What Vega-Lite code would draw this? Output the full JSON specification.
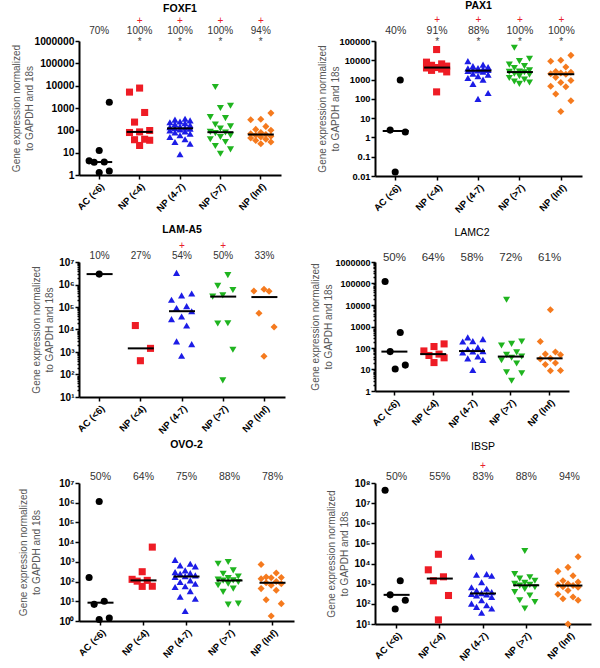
{
  "$schema": "https://vega.github.io/schema/vega-lite/v6.json",
  "padding": {"left": 11, "top": 0, "right": 3, "bottom": 3},
  "config": {
    "view": {"stroke": null},
    "font": "Liberation Sans",
    "axis": {"domainColor": "black", "domainWidth": 2, "tickColor": "black", "tickWidth": 1.5, "tickSize": 4, "labelColor": "black", "labelFontWeight": "bold", "labelFontSize": 10, "grid": false, "titleFontWeight": "normal", "titleColor": "#555", "titleFontSize": 10, "titleLineHeight": 13},
    "axisY": {"titlePadding": 2, "labelPadding": 1},
    "axisX": {"labelAngle": -45, "bandPosition": 0.5, "labelPadding": 2, "labelFontSize": 9.5},
    "title": {"fontSize": 10.5, "color": "black", "anchor": "middle", "frame": "group"}
  },
  "datasets": {
    "pts": [
      {"gene":"FOXF1","grp":"AC (<6)","v":1820},{"gene":"FOXF1","grp":"AC (<6)","v":12.4},{"gene":"FOXF1","grp":"AC (<6)","v":3.7},{"gene":"FOXF1","grp":"AC (<6)","v":3.8},{"gene":"FOXF1","grp":"AC (<6)","v":4.3},{"gene":"FOXF1","grp":"AC (<6)","v":1.5},{"gene":"FOXF1","grp":"AC (<6)","v":1.3},
      {"gene":"FOXF1","grp":"NP (<4)","v":7800},{"gene":"FOXF1","grp":"NP (<4)","v":5150},{"gene":"FOXF1","grp":"NP (<4)","v":630},{"gene":"FOXF1","grp":"NP (<4)","v":234},{"gene":"FOXF1","grp":"NP (<4)","v":98},{"gene":"FOXF1","grp":"NP (<4)","v":85},{"gene":"FOXF1","grp":"NP (<4)","v":80},{"gene":"FOXF1","grp":"NP (<4)","v":40},{"gene":"FOXF1","grp":"NP (<4)","v":38},{"gene":"FOXF1","grp":"NP (<4)","v":36},{"gene":"FOXF1","grp":"NP (<4)","v":21},
      {"gene":"FOXF1","grp":"NP (4-7)","v":330},{"gene":"FOXF1","grp":"NP (4-7)","v":300},{"gene":"FOXF1","grp":"NP (4-7)","v":280},{"gene":"FOXF1","grp":"NP (4-7)","v":250},{"gene":"FOXF1","grp":"NP (4-7)","v":230},{"gene":"FOXF1","grp":"NP (4-7)","v":210},{"gene":"FOXF1","grp":"NP (4-7)","v":190},{"gene":"FOXF1","grp":"NP (4-7)","v":170},{"gene":"FOXF1","grp":"NP (4-7)","v":150},{"gene":"FOXF1","grp":"NP (4-7)","v":140},{"gene":"FOXF1","grp":"NP (4-7)","v":130},{"gene":"FOXF1","grp":"NP (4-7)","v":125},{"gene":"FOXF1","grp":"NP (4-7)","v":120},{"gene":"FOXF1","grp":"NP (4-7)","v":110},{"gene":"FOXF1","grp":"NP (4-7)","v":100},{"gene":"FOXF1","grp":"NP (4-7)","v":90},{"gene":"FOXF1","grp":"NP (4-7)","v":80},{"gene":"FOXF1","grp":"NP (4-7)","v":70},{"gene":"FOXF1","grp":"NP (4-7)","v":60},{"gene":"FOXF1","grp":"NP (4-7)","v":50},{"gene":"FOXF1","grp":"NP (4-7)","v":40},{"gene":"FOXF1","grp":"NP (4-7)","v":30},{"gene":"FOXF1","grp":"NP (4-7)","v":25},{"gene":"FOXF1","grp":"NP (4-7)","v":8.5},
      {"gene":"FOXF1","grp":"NP (>7)","v":8700},{"gene":"FOXF1","grp":"NP (>7)","v":1260},{"gene":"FOXF1","grp":"NP (>7)","v":1000},{"gene":"FOXF1","grp":"NP (>7)","v":390},{"gene":"FOXF1","grp":"NP (>7)","v":350},{"gene":"FOXF1","grp":"NP (>7)","v":180},{"gene":"FOXF1","grp":"NP (>7)","v":150},{"gene":"FOXF1","grp":"NP (>7)","v":120},{"gene":"FOXF1","grp":"NP (>7)","v":85},{"gene":"FOXF1","grp":"NP (>7)","v":80},{"gene":"FOXF1","grp":"NP (>7)","v":75},{"gene":"FOXF1","grp":"NP (>7)","v":60},{"gene":"FOXF1","grp":"NP (>7)","v":50},{"gene":"FOXF1","grp":"NP (>7)","v":40},{"gene":"FOXF1","grp":"NP (>7)","v":30},{"gene":"FOXF1","grp":"NP (>7)","v":20},{"gene":"FOXF1","grp":"NP (>7)","v":14},{"gene":"FOXF1","grp":"NP (>7)","v":9},
      {"gene":"FOXF1","grp":"NP (Inf)","v":590},{"gene":"FOXF1","grp":"NP (Inf)","v":316},{"gene":"FOXF1","grp":"NP (Inf)","v":300},{"gene":"FOXF1","grp":"NP (Inf)","v":150},{"gene":"FOXF1","grp":"NP (Inf)","v":110},{"gene":"FOXF1","grp":"NP (Inf)","v":100},{"gene":"FOXF1","grp":"NP (Inf)","v":80},{"gene":"FOXF1","grp":"NP (Inf)","v":70},{"gene":"FOXF1","grp":"NP (Inf)","v":65},{"gene":"FOXF1","grp":"NP (Inf)","v":60},{"gene":"FOXF1","grp":"NP (Inf)","v":55},{"gene":"FOXF1","grp":"NP (Inf)","v":50},{"gene":"FOXF1","grp":"NP (Inf)","v":45},{"gene":"FOXF1","grp":"NP (Inf)","v":40},{"gene":"FOXF1","grp":"NP (Inf)","v":35},{"gene":"FOXF1","grp":"NP (Inf)","v":30},{"gene":"FOXF1","grp":"NP (Inf)","v":25},

      {"gene":"PAX1","grp":"AC (<6)","v":950},{"gene":"PAX1","grp":"AC (<6)","v":2.4},{"gene":"PAX1","grp":"AC (<6)","v":1.9},{"gene":"PAX1","grp":"AC (<6)","v":0.016},
      {"gene":"PAX1","grp":"NP (<4)","v":36000},{"gene":"PAX1","grp":"NP (<4)","v":8000},{"gene":"PAX1","grp":"NP (<4)","v":6500},{"gene":"PAX1","grp":"NP (<4)","v":5500},{"gene":"PAX1","grp":"NP (<4)","v":5000},{"gene":"PAX1","grp":"NP (<4)","v":4200},{"gene":"PAX1","grp":"NP (<4)","v":4000},{"gene":"PAX1","grp":"NP (<4)","v":3500},{"gene":"PAX1","grp":"NP (<4)","v":3000},{"gene":"PAX1","grp":"NP (<4)","v":2500},{"gene":"PAX1","grp":"NP (<4)","v":230},
      {"gene":"PAX1","grp":"NP (4-7)","v":9000},{"gene":"PAX1","grp":"NP (4-7)","v":6000},{"gene":"PAX1","grp":"NP (4-7)","v":5000},{"gene":"PAX1","grp":"NP (4-7)","v":4500},{"gene":"PAX1","grp":"NP (4-7)","v":4000},{"gene":"PAX1","grp":"NP (4-7)","v":3800},{"gene":"PAX1","grp":"NP (4-7)","v":3500},{"gene":"PAX1","grp":"NP (4-7)","v":3300},{"gene":"PAX1","grp":"NP (4-7)","v":3200},{"gene":"PAX1","grp":"NP (4-7)","v":3000},{"gene":"PAX1","grp":"NP (4-7)","v":2800},{"gene":"PAX1","grp":"NP (4-7)","v":2600},{"gene":"PAX1","grp":"NP (4-7)","v":2000},{"gene":"PAX1","grp":"NP (4-7)","v":1800},{"gene":"PAX1","grp":"NP (4-7)","v":1500},{"gene":"PAX1","grp":"NP (4-7)","v":1200},{"gene":"PAX1","grp":"NP (4-7)","v":1000},{"gene":"PAX1","grp":"NP (4-7)","v":600},{"gene":"PAX1","grp":"NP (4-7)","v":200},{"gene":"PAX1","grp":"NP (4-7)","v":100},
      {"gene":"PAX1","grp":"NP (>7)","v":45000},{"gene":"PAX1","grp":"NP (>7)","v":12000},{"gene":"PAX1","grp":"NP (>7)","v":9000},{"gene":"PAX1","grp":"NP (>7)","v":6000},{"gene":"PAX1","grp":"NP (>7)","v":5000},{"gene":"PAX1","grp":"NP (>7)","v":4000},{"gene":"PAX1","grp":"NP (>7)","v":3000},{"gene":"PAX1","grp":"NP (>7)","v":2600},{"gene":"PAX1","grp":"NP (>7)","v":2500},{"gene":"PAX1","grp":"NP (>7)","v":2400},{"gene":"PAX1","grp":"NP (>7)","v":2000},{"gene":"PAX1","grp":"NP (>7)","v":1800},{"gene":"PAX1","grp":"NP (>7)","v":1500},{"gene":"PAX1","grp":"NP (>7)","v":1200},{"gene":"PAX1","grp":"NP (>7)","v":1000},{"gene":"PAX1","grp":"NP (>7)","v":800},{"gene":"PAX1","grp":"NP (>7)","v":700},{"gene":"PAX1","grp":"NP (>7)","v":600},
      {"gene":"PAX1","grp":"NP (Inf)","v":18000},{"gene":"PAX1","grp":"NP (Inf)","v":10000},{"gene":"PAX1","grp":"NP (Inf)","v":9000},{"gene":"PAX1","grp":"NP (Inf)","v":4500},{"gene":"PAX1","grp":"NP (Inf)","v":2600},{"gene":"PAX1","grp":"NP (Inf)","v":2400},{"gene":"PAX1","grp":"NP (Inf)","v":2200},{"gene":"PAX1","grp":"NP (Inf)","v":2000},{"gene":"PAX1","grp":"NP (Inf)","v":1900},{"gene":"PAX1","grp":"NP (Inf)","v":1300},{"gene":"PAX1","grp":"NP (Inf)","v":900},{"gene":"PAX1","grp":"NP (Inf)","v":700},{"gene":"PAX1","grp":"NP (Inf)","v":450},{"gene":"PAX1","grp":"NP (Inf)","v":420},{"gene":"PAX1","grp":"NP (Inf)","v":180},{"gene":"PAX1","grp":"NP (Inf)","v":80},{"gene":"PAX1","grp":"NP (Inf)","v":22},

      {"gene":"LAM-A5","grp":"AC (<6)","v":2900000},
      {"gene":"LAM-A5","grp":"NP (<4)","v":15000},{"gene":"LAM-A5","grp":"NP (<4)","v":1450},{"gene":"LAM-A5","grp":"NP (<4)","v":410},
      {"gene":"LAM-A5","grp":"NP (4-7)","v":3300000},{"gene":"LAM-A5","grp":"NP (4-7)","v":400000},{"gene":"LAM-A5","grp":"NP (4-7)","v":330000},{"gene":"LAM-A5","grp":"NP (4-7)","v":210000},{"gene":"LAM-A5","grp":"NP (4-7)","v":110000},{"gene":"LAM-A5","grp":"NP (4-7)","v":90000},{"gene":"LAM-A5","grp":"NP (4-7)","v":65000},{"gene":"LAM-A5","grp":"NP (4-7)","v":38000},{"gene":"LAM-A5","grp":"NP (4-7)","v":29000},{"gene":"LAM-A5","grp":"NP (4-7)","v":15000},{"gene":"LAM-A5","grp":"NP (4-7)","v":2950},{"gene":"LAM-A5","grp":"NP (4-7)","v":2250},{"gene":"LAM-A5","grp":"NP (4-7)","v":680},
      {"gene":"LAM-A5","grp":"NP (>7)","v":2600000},{"gene":"LAM-A5","grp":"NP (>7)","v":870000},{"gene":"LAM-A5","grp":"NP (>7)","v":570000},{"gene":"LAM-A5","grp":"NP (>7)","v":330000},{"gene":"LAM-A5","grp":"NP (>7)","v":290000},{"gene":"LAM-A5","grp":"NP (>7)","v":19000},{"gene":"LAM-A5","grp":"NP (>7)","v":18500},{"gene":"LAM-A5","grp":"NP (>7)","v":1260},{"gene":"LAM-A5","grp":"NP (>7)","v":55},
      {"gene":"LAM-A5","grp":"NP (Inf)","v":620000},{"gene":"LAM-A5","grp":"NP (Inf)","v":510000},{"gene":"LAM-A5","grp":"NP (Inf)","v":500000},{"gene":"LAM-A5","grp":"NP (Inf)","v":53000},{"gene":"LAM-A5","grp":"NP (Inf)","v":13000},{"gene":"LAM-A5","grp":"NP (Inf)","v":650},

      {"gene":"LAMC2","grp":"AC (<6)","v":125000},{"gene":"LAMC2","grp":"AC (<6)","v":530},{"gene":"LAMC2","grp":"AC (<6)","v":68},{"gene":"LAMC2","grp":"AC (<6)","v":16},{"gene":"LAMC2","grp":"AC (<6)","v":10.5},
      {"gene":"LAMC2","grp":"NP (<4)","v":155},{"gene":"LAMC2","grp":"NP (<4)","v":117},{"gene":"LAMC2","grp":"NP (<4)","v":73},{"gene":"LAMC2","grp":"NP (<4)","v":52},{"gene":"LAMC2","grp":"NP (<4)","v":45},{"gene":"LAMC2","grp":"NP (<4)","v":35},{"gene":"LAMC2","grp":"NP (<4)","v":21},
      {"gene":"LAMC2","grp":"NP (4-7)","v":310},{"gene":"LAMC2","grp":"NP (4-7)","v":260},{"gene":"LAMC2","grp":"NP (4-7)","v":210},{"gene":"LAMC2","grp":"NP (4-7)","v":200},{"gene":"LAMC2","grp":"NP (4-7)","v":107},{"gene":"LAMC2","grp":"NP (4-7)","v":90},{"gene":"LAMC2","grp":"NP (4-7)","v":72},{"gene":"LAMC2","grp":"NP (4-7)","v":70},{"gene":"LAMC2","grp":"NP (4-7)","v":63},{"gene":"LAMC2","grp":"NP (4-7)","v":40},{"gene":"LAMC2","grp":"NP (4-7)","v":33},{"gene":"LAMC2","grp":"NP (4-7)","v":28},{"gene":"LAMC2","grp":"NP (4-7)","v":9.5},
      {"gene":"LAMC2","grp":"NP (>7)","v":17500},{"gene":"LAMC2","grp":"NP (>7)","v":200},{"gene":"LAMC2","grp":"NP (>7)","v":155},{"gene":"LAMC2","grp":"NP (>7)","v":130},{"gene":"LAMC2","grp":"NP (>7)","v":63},{"gene":"LAMC2","grp":"NP (>7)","v":48},{"gene":"LAMC2","grp":"NP (>7)","v":40},{"gene":"LAMC2","grp":"NP (>7)","v":35},{"gene":"LAMC2","grp":"NP (>7)","v":27},{"gene":"LAMC2","grp":"NP (>7)","v":19},{"gene":"LAMC2","grp":"NP (>7)","v":7.4},{"gene":"LAMC2","grp":"NP (>7)","v":6.7},{"gene":"LAMC2","grp":"NP (>7)","v":3},
      {"gene":"LAMC2","grp":"NP (Inf)","v":6000},{"gene":"LAMC2","grp":"NP (Inf)","v":200},{"gene":"LAMC2","grp":"NP (Inf)","v":65},{"gene":"LAMC2","grp":"NP (Inf)","v":52},{"gene":"LAMC2","grp":"NP (Inf)","v":48},{"gene":"LAMC2","grp":"NP (Inf)","v":33},{"gene":"LAMC2","grp":"NP (Inf)","v":31},{"gene":"LAMC2","grp":"NP (Inf)","v":20},{"gene":"LAMC2","grp":"NP (Inf)","v":17},{"gene":"LAMC2","grp":"NP (Inf)","v":9},{"gene":"LAMC2","grp":"NP (Inf)","v":8.8},

      {"gene":"OVO-2","grp":"AC (<6)","v":1150000},{"gene":"OVO-2","grp":"AC (<6)","v":162},{"gene":"OVO-2","grp":"AC (<6)","v":10},{"gene":"OVO-2","grp":"AC (<6)","v":7},{"gene":"OVO-2","grp":"AC (<6)","v":1.4},{"gene":"OVO-2","grp":"AC (<6)","v":1.2},
      {"gene":"OVO-2","grp":"NP (<4)","v":5600},{"gene":"OVO-2","grp":"NP (<4)","v":316},{"gene":"OVO-2","grp":"NP (<4)","v":130},{"gene":"OVO-2","grp":"NP (<4)","v":115},{"gene":"OVO-2","grp":"NP (<4)","v":105},{"gene":"OVO-2","grp":"NP (<4)","v":58},{"gene":"OVO-2","grp":"NP (<4)","v":57},
      {"gene":"OVO-2","grp":"NP (4-7)","v":1260},{"gene":"OVO-2","grp":"NP (4-7)","v":800},{"gene":"OVO-2","grp":"NP (4-7)","v":660},{"gene":"OVO-2","grp":"NP (4-7)","v":590},{"gene":"OVO-2","grp":"NP (4-7)","v":370},{"gene":"OVO-2","grp":"NP (4-7)","v":300},{"gene":"OVO-2","grp":"NP (4-7)","v":270},{"gene":"OVO-2","grp":"NP (4-7)","v":250},{"gene":"OVO-2","grp":"NP (4-7)","v":205},{"gene":"OVO-2","grp":"NP (4-7)","v":190},{"gene":"OVO-2","grp":"NP (4-7)","v":170},{"gene":"OVO-2","grp":"NP (4-7)","v":115},{"gene":"OVO-2","grp":"NP (4-7)","v":95},{"gene":"OVO-2","grp":"NP (4-7)","v":78},{"gene":"OVO-2","grp":"NP (4-7)","v":58},{"gene":"OVO-2","grp":"NP (4-7)","v":53},{"gene":"OVO-2","grp":"NP (4-7)","v":33},{"gene":"OVO-2","grp":"NP (4-7)","v":17},{"gene":"OVO-2","grp":"NP (4-7)","v":13.5},{"gene":"OVO-2","grp":"NP (4-7)","v":3.2},
      {"gene":"OVO-2","grp":"NP (>7)","v":980},{"gene":"OVO-2","grp":"NP (>7)","v":800},{"gene":"OVO-2","grp":"NP (>7)","v":370},{"gene":"OVO-2","grp":"NP (>7)","v":250},{"gene":"OVO-2","grp":"NP (>7)","v":180},{"gene":"OVO-2","grp":"NP (>7)","v":150},{"gene":"OVO-2","grp":"NP (>7)","v":125},{"gene":"OVO-2","grp":"NP (>7)","v":115},{"gene":"OVO-2","grp":"NP (>7)","v":112},{"gene":"OVO-2","grp":"NP (>7)","v":95},{"gene":"OVO-2","grp":"NP (>7)","v":78},{"gene":"OVO-2","grp":"NP (>7)","v":65},{"gene":"OVO-2","grp":"NP (>7)","v":44},{"gene":"OVO-2","grp":"NP (>7)","v":30},{"gene":"OVO-2","grp":"NP (>7)","v":7.6},{"gene":"OVO-2","grp":"NP (>7)","v":6.8},
      {"gene":"OVO-2","grp":"NP (Inf)","v":740},{"gene":"OVO-2","grp":"NP (Inf)","v":270},{"gene":"OVO-2","grp":"NP (Inf)","v":170},{"gene":"OVO-2","grp":"NP (Inf)","v":160},{"gene":"OVO-2","grp":"NP (Inf)","v":155},{"gene":"OVO-2","grp":"NP (Inf)","v":140},{"gene":"OVO-2","grp":"NP (Inf)","v":100},{"gene":"OVO-2","grp":"NP (Inf)","v":87},{"gene":"OVO-2","grp":"NP (Inf)","v":78},{"gene":"OVO-2","grp":"NP (Inf)","v":65},{"gene":"OVO-2","grp":"NP (Inf)","v":44},{"gene":"OVO-2","grp":"NP (Inf)","v":36},{"gene":"OVO-2","grp":"NP (Inf)","v":12},{"gene":"OVO-2","grp":"NP (Inf)","v":7.6},{"gene":"OVO-2","grp":"NP (Inf)","v":1.8},

      {"gene":"IBSP","grp":"AC (<6)","v":44000000},{"gene":"IBSP","grp":"AC (<6)","v":1400},{"gene":"IBSP","grp":"AC (<6)","v":280},{"gene":"IBSP","grp":"AC (<6)","v":150},{"gene":"IBSP","grp":"AC (<6)","v":56},
      {"gene":"IBSP","grp":"NP (<4)","v":29000},{"gene":"IBSP","grp":"NP (<4)","v":4900},{"gene":"IBSP","grp":"NP (<4)","v":2200},{"gene":"IBSP","grp":"NP (<4)","v":1400},{"gene":"IBSP","grp":"NP (<4)","v":260},{"gene":"IBSP","grp":"NP (<4)","v":16},
      {"gene":"IBSP","grp":"NP (4-7)","v":22000},{"gene":"IBSP","grp":"NP (4-7)","v":3000},{"gene":"IBSP","grp":"NP (4-7)","v":2800},{"gene":"IBSP","grp":"NP (4-7)","v":2500},{"gene":"IBSP","grp":"NP (4-7)","v":1180},{"gene":"IBSP","grp":"NP (4-7)","v":670},{"gene":"IBSP","grp":"NP (4-7)","v":560},{"gene":"IBSP","grp":"NP (4-7)","v":460},{"gene":"IBSP","grp":"NP (4-7)","v":380},{"gene":"IBSP","grp":"NP (4-7)","v":340},{"gene":"IBSP","grp":"NP (4-7)","v":315},{"gene":"IBSP","grp":"NP (4-7)","v":290},{"gene":"IBSP","grp":"NP (4-7)","v":260},{"gene":"IBSP","grp":"NP (4-7)","v":220},{"gene":"IBSP","grp":"NP (4-7)","v":150},{"gene":"IBSP","grp":"NP (4-7)","v":103},{"gene":"IBSP","grp":"NP (4-7)","v":85},{"gene":"IBSP","grp":"NP (4-7)","v":71},{"gene":"IBSP","grp":"NP (4-7)","v":59},{"gene":"IBSP","grp":"NP (4-7)","v":36},
      {"gene":"IBSP","grp":"NP (>7)","v":42000},{"gene":"IBSP","grp":"NP (>7)","v":3000},{"gene":"IBSP","grp":"NP (>7)","v":2100},{"gene":"IBSP","grp":"NP (>7)","v":1800},{"gene":"IBSP","grp":"NP (>7)","v":1400},{"gene":"IBSP","grp":"NP (>7)","v":1100},{"gene":"IBSP","grp":"NP (>7)","v":980},{"gene":"IBSP","grp":"NP (>7)","v":870},{"gene":"IBSP","grp":"NP (>7)","v":800},{"gene":"IBSP","grp":"NP (>7)","v":670},{"gene":"IBSP","grp":"NP (>7)","v":550},{"gene":"IBSP","grp":"NP (>7)","v":380},{"gene":"IBSP","grp":"NP (>7)","v":260},{"gene":"IBSP","grp":"NP (>7)","v":150},{"gene":"IBSP","grp":"NP (>7)","v":123},{"gene":"IBSP","grp":"NP (>7)","v":59},
      {"gene":"IBSP","grp":"NP (Inf)","v":22000},{"gene":"IBSP","grp":"NP (Inf)","v":6500},{"gene":"IBSP","grp":"NP (Inf)","v":4100},{"gene":"IBSP","grp":"NP (Inf)","v":2500},{"gene":"IBSP","grp":"NP (Inf)","v":1400},{"gene":"IBSP","grp":"NP (Inf)","v":1200},{"gene":"IBSP","grp":"NP (Inf)","v":980},{"gene":"IBSP","grp":"NP (Inf)","v":900},{"gene":"IBSP","grp":"NP (Inf)","v":810},{"gene":"IBSP","grp":"NP (Inf)","v":700},{"gene":"IBSP","grp":"NP (Inf)","v":670},{"gene":"IBSP","grp":"NP (Inf)","v":460},{"gene":"IBSP","grp":"NP (Inf)","v":300},{"gene":"IBSP","grp":"NP (Inf)","v":220},{"gene":"IBSP","grp":"NP (Inf)","v":180},{"gene":"IBSP","grp":"NP (Inf)","v":150},{"gene":"IBSP","grp":"NP (Inf)","v":10}
    ],
    "lab": [
      {"gene":"FOXF1","grp":"AC (<6)","pct":"70%","plus":"","star":""},{"gene":"FOXF1","grp":"NP (<4)","pct":"100%","plus":"+","star":"*"},{"gene":"FOXF1","grp":"NP (4-7)","pct":"100%","plus":"+","star":"*"},{"gene":"FOXF1","grp":"NP (>7)","pct":"100%","plus":"+","star":"*"},{"gene":"FOXF1","grp":"NP (Inf)","pct":"94%","plus":"+","star":"*"},
      {"gene":"PAX1","grp":"AC (<6)","pct":"40%","plus":"","star":""},{"gene":"PAX1","grp":"NP (<4)","pct":"91%","plus":"+","star":"*"},{"gene":"PAX1","grp":"NP (4-7)","pct":"88%","plus":"+","star":"*"},{"gene":"PAX1","grp":"NP (>7)","pct":"100%","plus":"+","star":"*"},{"gene":"PAX1","grp":"NP (Inf)","pct":"100%","plus":"+","star":"*"},
      {"gene":"LAM-A5","grp":"AC (<6)","pct":"10%","plus":"","star":""},{"gene":"LAM-A5","grp":"NP (<4)","pct":"27%","plus":"","star":""},{"gene":"LAM-A5","grp":"NP (4-7)","pct":"54%","plus":"+","star":""},{"gene":"LAM-A5","grp":"NP (>7)","pct":"50%","plus":"+","star":""},{"gene":"LAM-A5","grp":"NP (Inf)","pct":"33%","plus":"","star":""},
      {"gene":"LAMC2","grp":"AC (<6)","pct":"50%","plus":"","star":""},{"gene":"LAMC2","grp":"NP (<4)","pct":"64%","plus":"","star":""},{"gene":"LAMC2","grp":"NP (4-7)","pct":"58%","plus":"","star":""},{"gene":"LAMC2","grp":"NP (>7)","pct":"72%","plus":"","star":""},{"gene":"LAMC2","grp":"NP (Inf)","pct":"61%","plus":"","star":""},
      {"gene":"OVO-2","grp":"AC (<6)","pct":"50%","plus":"","star":""},{"gene":"OVO-2","grp":"NP (<4)","pct":"64%","plus":"","star":""},{"gene":"OVO-2","grp":"NP (4-7)","pct":"75%","plus":"","star":""},{"gene":"OVO-2","grp":"NP (>7)","pct":"88%","plus":"","star":""},{"gene":"OVO-2","grp":"NP (Inf)","pct":"78%","plus":"","star":""},
      {"gene":"IBSP","grp":"AC (<6)","pct":"50%","plus":"","star":""},{"gene":"IBSP","grp":"NP (<4)","pct":"55%","plus":"","star":""},{"gene":"IBSP","grp":"NP (4-7)","pct":"83%","plus":"+","star":""},{"gene":"IBSP","grp":"NP (>7)","pct":"88%","plus":"","star":""},{"gene":"IBSP","grp":"NP (Inf)","pct":"94%","plus":"","star":""}
    ]
  },
  "columns": 2,
  "align": "each",
  "bounds": "flush",
  "spacing": {"row": 86, "column": 81},
  "concat": [
      {"width": 202, "height": 134,
       "title": {"text": "FOXF1", "fontWeight": "bold", "offset": 2},
       "layer": [
        {"data": {"name": "pts"}, "transform": [{"filter": "datum.gene == 'FOXF1'"}, {"window": [{"op": "row_number", "as": "i"}], "groupby": ["grp"], "sort": [{"field": "v"}]}, {"calculate": "[0, 0.25, -0.125, 0.125, -0.25][(datum.i - 1) % 5]", "as": "jit"}],
         "mark": {"type": "point", "filled": true, "opacity": 1, "size": 50},
         "encoding": {
          "x": {"field": "grp", "type": "nominal", "sort": ["AC (<6)","NP (<4)","NP (4-7)","NP (>7)","NP (Inf)"], "scale": {"domain": ["AC (<6)","NP (<4)","NP (4-7)","NP (>7)","NP (Inf)"], "paddingInner": 0, "paddingOuter": 0}, "title": null},
          "xOffset": {"field": "jit", "type": "quantitative", "scale": {"domain": [-0.5, 0.5]}},
          "y": {"field": "v", "type": "quantitative", "scale": {"type": "log", "domain": [1, 1000000], "nice": false}, "axis": {"values": [1,10,100,1000,10000,100000,1000000], "format": "~f", "labelFontSize": 10.3, "minExtent": 43, "maxExtent": 43}, "title": ["Gene expression normalized", "to GAPDH and 18s"]},
          "color": {"field": "grp", "type": "nominal", "scale": {"domain": ["AC (<6)","NP (<4)","NP (4-7)","NP (>7)","NP (Inf)"], "range": ["#000000","#ee1c25","#1c1ce6","#1fb41f","#f57a1e"]}, "legend": null},
          "shape": {"field": "grp", "type": "nominal", "scale": {"domain": ["AC (<6)","NP (<4)","NP (4-7)","NP (>7)","NP (Inf)"], "range": ["circle","square","triangle-up","triangle-down","diamond"]}, "legend": null}
         }},
        {"data": {"name": "pts"}, "transform": [{"filter": "datum.gene == 'FOXF1'"}],
         "mark": {"type": "tick", "color": "black", "thickness": 2, "size": 26},
         "encoding": {
          "x": {"field": "grp", "type": "nominal", "sort": ["AC (<6)","NP (<4)","NP (4-7)","NP (>7)","NP (Inf)"], "title": null},
          "y": {"aggregate": "median", "field": "v", "type": "quantitative", "title": ["Gene expression normalized", "to GAPDH and 18s"]}
         }},
        {"data": {"name": "lab"}, "transform": [{"filter": "datum.gene == 'FOXF1'"}],
         "mark": {"type": "text", "fontSize": 10, "color": "#333", "dy": -10, "baseline": "middle"},
         "encoding": {"x": {"field": "grp", "type": "nominal", "sort": ["AC (<6)","NP (<4)","NP (4-7)","NP (>7)","NP (Inf)"], "title": null}, "y": {"datum": 1000000, "type": "quantitative"}, "text": {"field": "pct"}}},
        {"data": {"name": "lab"}, "transform": [{"filter": "datum.gene == 'FOXF1'"}],
         "mark": {"type": "text", "fontSize": 10, "color": "#e8202a", "dy": -20, "baseline": "middle"},
         "encoding": {"x": {"field": "grp", "type": "nominal", "sort": ["AC (<6)","NP (<4)","NP (4-7)","NP (>7)","NP (Inf)"], "title": null}, "y": {"datum": 1000000, "type": "quantitative"}, "text": {"field": "plus"}}},
        {"data": {"name": "lab"}, "transform": [{"filter": "datum.gene == 'FOXF1'"}],
         "mark": {"type": "text", "fontSize": 10, "color": "#444", "dy": 1, "baseline": "middle"},
         "encoding": {"x": {"field": "grp", "type": "nominal", "sort": ["AC (<6)","NP (<4)","NP (4-7)","NP (>7)","NP (Inf)"], "title": null}, "y": {"datum": 1000000, "type": "quantitative"}, "text": {"field": "star"}}}
       ]},
      {"width": 207, "height": 135,
       "title": {"text": "PAX1", "fontWeight": "bold", "offset": 4},
       "layer": [
        {"data": {"name": "pts"}, "transform": [{"filter": "datum.gene == 'PAX1'"}, {"window": [{"op": "row_number", "as": "i"}], "groupby": ["grp"], "sort": [{"field": "v"}]}, {"calculate": "[0, 0.25, -0.125, 0.125, -0.25][(datum.i - 1) % 5]", "as": "jit"}],
         "mark": {"type": "point", "filled": true, "opacity": 1, "size": 50},
         "encoding": {
          "x": {"field": "grp", "type": "nominal", "sort": ["AC (<6)","NP (<4)","NP (4-7)","NP (>7)","NP (Inf)"], "scale": {"domain": ["AC (<6)","NP (<4)","NP (4-7)","NP (>7)","NP (Inf)"], "paddingInner": 0, "paddingOuter": 0}, "title": null},
          "xOffset": {"field": "jit", "type": "quantitative", "scale": {"domain": [-0.5, 0.5]}},
          "y": {"field": "v", "type": "quantitative", "scale": {"type": "log", "domain": [0.01, 100000], "nice": false}, "axis": {"values": [0.01,0.1,1,10,100,1000,10000,100000], "format": "~f", "labelFontSize": 9.3, "minExtent": 34, "maxExtent": 34, "titlePadding": 1}, "title": ["Gene expression normalized", "to GAPDH and 18s"]},
          "color": {"field": "grp", "type": "nominal", "scale": {"domain": ["AC (<6)","NP (<4)","NP (4-7)","NP (>7)","NP (Inf)"], "range": ["#000000","#ee1c25","#1c1ce6","#1fb41f","#f57a1e"]}, "legend": null},
          "shape": {"field": "grp", "type": "nominal", "scale": {"domain": ["AC (<6)","NP (<4)","NP (4-7)","NP (>7)","NP (Inf)"], "range": ["circle","square","triangle-up","triangle-down","diamond"]}, "legend": null}
         }},
        {"data": {"name": "pts"}, "transform": [{"filter": "datum.gene == 'PAX1'"}],
         "mark": {"type": "tick", "color": "black", "thickness": 2, "size": 26},
         "encoding": {
          "x": {"field": "grp", "type": "nominal", "sort": ["AC (<6)","NP (<4)","NP (4-7)","NP (>7)","NP (Inf)"], "title": null},
          "y": {"aggregate": "median", "field": "v", "type": "quantitative", "title": ["Gene expression normalized", "to GAPDH and 18s"]}
         }},
        {"data": {"name": "lab"}, "transform": [{"filter": "datum.gene == 'PAX1'"}],
         "mark": {"type": "text", "fontSize": 10.5, "color": "#333", "dy": -10, "baseline": "middle"},
         "encoding": {"x": {"field": "grp", "type": "nominal", "sort": ["AC (<6)","NP (<4)","NP (4-7)","NP (>7)","NP (Inf)"], "title": null}, "y": {"datum": 100000, "type": "quantitative"}, "text": {"field": "pct"}}},
        {"data": {"name": "lab"}, "transform": [{"filter": "datum.gene == 'PAX1'"}],
         "mark": {"type": "text", "fontSize": 10, "color": "#e8202a", "dy": -21, "baseline": "middle"},
         "encoding": {"x": {"field": "grp", "type": "nominal", "sort": ["AC (<6)","NP (<4)","NP (4-7)","NP (>7)","NP (Inf)"], "title": null}, "y": {"datum": 100000, "type": "quantitative"}, "text": {"field": "plus"}}},
        {"data": {"name": "lab"}, "transform": [{"filter": "datum.gene == 'PAX1'"}],
         "mark": {"type": "text", "fontSize": 10, "color": "#444", "dy": 1, "baseline": "middle"},
         "encoding": {"x": {"field": "grp", "type": "nominal", "sort": ["AC (<6)","NP (<4)","NP (4-7)","NP (>7)","NP (Inf)"], "title": null}, "y": {"datum": 100000, "type": "quantitative"}, "text": {"field": "star"}}}
       ]},
      {"width": 206, "height": 135,
       "title": {"text": "LAM-A5", "fontWeight": "bold", "offset": 6},
       "layer": [
        {"data": {"name": "pts"}, "transform": [{"filter": "datum.gene == 'LAM-A5'"}, {"window": [{"op": "row_number", "as": "i"}], "groupby": ["grp"], "sort": [{"field": "v"}]}, {"calculate": "[0, 0.25, -0.125, 0.125, -0.25][(datum.i - 1) % 5]", "as": "jit"}],
         "mark": {"type": "point", "filled": true, "opacity": 1, "size": 50},
         "encoding": {
          "x": {"field": "grp", "type": "nominal", "sort": ["AC (<6)","NP (<4)","NP (4-7)","NP (>7)","NP (Inf)"], "scale": {"domain": ["AC (<6)","NP (<4)","NP (4-7)","NP (>7)","NP (Inf)"], "paddingInner": 0, "paddingOuter": 0}, "title": null},
          "xOffset": {"field": "jit", "type": "quantitative", "scale": {"domain": [-0.5, 0.5]}},
          "y": {"field": "v", "type": "quantitative", "scale": {"type": "log", "domain": [10, 10000000], "nice": false}, "axis": {"values": [10,20,30,40,50,60,70,80,90,100,200,300,400,500,600,700,800,900,1000,2000,3000,4000,5000,6000,7000,8000,9000,10000,20000,30000,40000,50000,60000,70000,80000,90000,100000,200000,300000,400000,500000,600000,700000,800000,900000,1000000,2000000,3000000,4000000,5000000,6000000,7000000,8000000,9000000,10000000], "labelOverlap": false, "tickSize": {"condition": {"test": "abs(log(datum.value)/LN10 - round(log(datum.value)/LN10)) < 0.001", "value": 4}, "value": 2}, "labelExpr": "abs(log(datum.value)/LN10 - round(log(datum.value)/LN10)) < 0.001 ? '10' + ['⁰','¹','²','³','⁴','⁵','⁶','⁷','⁸'][round(log(datum.value)/LN10)] : ''", "labelFontSize": 10, "minExtent": 23, "maxExtent": 23}, "title": ["Gene expression normalized", "to GAPDH and 18s"]},
          "color": {"field": "grp", "type": "nominal", "scale": {"domain": ["AC (<6)","NP (<4)","NP (4-7)","NP (>7)","NP (Inf)"], "range": ["#000000","#ee1c25","#1c1ce6","#1fb41f","#f57a1e"]}, "legend": null},
          "shape": {"field": "grp", "type": "nominal", "scale": {"domain": ["AC (<6)","NP (<4)","NP (4-7)","NP (>7)","NP (Inf)"], "range": ["circle","square","triangle-up","triangle-down","diamond"]}, "legend": null}
         }},
        {"data": {"name": "pts"}, "transform": [{"filter": "datum.gene == 'LAM-A5'"}],
         "mark": {"type": "tick", "color": "black", "thickness": 2, "size": 26},
         "encoding": {
          "x": {"field": "grp", "type": "nominal", "sort": ["AC (<6)","NP (<4)","NP (4-7)","NP (>7)","NP (Inf)"], "title": null},
          "y": {"aggregate": "median", "field": "v", "type": "quantitative", "title": ["Gene expression normalized", "to GAPDH and 18s"]}
         }},
        {"data": {"name": "lab"}, "transform": [{"filter": "datum.gene == 'LAM-A5'"}],
         "mark": {"type": "text", "fontSize": 10, "color": "#333", "dy": -6, "baseline": "middle"},
         "encoding": {"x": {"field": "grp", "type": "nominal", "sort": ["AC (<6)","NP (<4)","NP (4-7)","NP (>7)","NP (Inf)"], "title": null}, "y": {"datum": 10000000, "type": "quantitative"}, "text": {"field": "pct"}}},
        {"data": {"name": "lab"}, "transform": [{"filter": "datum.gene == 'LAM-A5'"}],
         "mark": {"type": "text", "fontSize": 10, "color": "#e8202a", "dy": -16, "baseline": "middle"},
         "encoding": {"x": {"field": "grp", "type": "nominal", "sort": ["AC (<6)","NP (<4)","NP (4-7)","NP (>7)","NP (Inf)"], "title": null}, "y": {"datum": 10000000, "type": "quantitative"}, "text": {"field": "plus"}}}
       ]},
      {"width": 194, "height": 129,
       "title": {"text": "LAMC2", "fontWeight": "normal", "offset": 14},
       "layer": [
        {"data": {"name": "pts"}, "transform": [{"filter": "datum.gene == 'LAMC2'"}, {"window": [{"op": "row_number", "as": "i"}], "groupby": ["grp"], "sort": [{"field": "v"}]}, {"calculate": "[0, 0.25, -0.125, 0.125, -0.25][(datum.i - 1) % 5]", "as": "jit"}],
         "mark": {"type": "point", "filled": true, "opacity": 1, "size": 50},
         "encoding": {
          "x": {"field": "grp", "type": "nominal", "sort": ["AC (<6)","NP (<4)","NP (4-7)","NP (>7)","NP (Inf)"], "scale": {"domain": ["AC (<6)","NP (<4)","NP (4-7)","NP (>7)","NP (Inf)"], "paddingInner": 0, "paddingOuter": 0}, "title": null},
          "xOffset": {"field": "jit", "type": "quantitative", "scale": {"domain": [-0.5, 0.5]}},
          "y": {"field": "v", "type": "quantitative", "scale": {"type": "log", "domain": [1, 1000000], "nice": false}, "axis": {"values": [1,2,3,4,5,6,7,8,9,10,20,30,40,50,60,70,80,90,100,200,300,400,500,600,700,800,900,1000,2000,3000,4000,5000,6000,7000,8000,9000,10000,20000,30000,40000,50000,60000,70000,80000,90000,100000,200000,300000,400000,500000,600000,700000,800000,900000,1000000], "labelOverlap": false, "tickSize": {"condition": {"test": "abs(log(datum.value)/LN10 - round(log(datum.value)/LN10)) < 0.001", "value": 4}, "value": 2}, "labelExpr": "abs(log(datum.value)/LN10 - round(log(datum.value)/LN10)) < 0.001 ? format(datum.value, '~f') : ''", "labelFontSize": 9, "minExtent": 40, "maxExtent": 40}, "title": ["Gene expression normalized", "to GAPDH and 18s"]},
          "color": {"field": "grp", "type": "nominal", "scale": {"domain": ["AC (<6)","NP (<4)","NP (4-7)","NP (>7)","NP (Inf)"], "range": ["#000000","#ee1c25","#1c1ce6","#1fb41f","#f57a1e"]}, "legend": null},
          "shape": {"field": "grp", "type": "nominal", "scale": {"domain": ["AC (<6)","NP (<4)","NP (4-7)","NP (>7)","NP (Inf)"], "range": ["circle","square","triangle-up","triangle-down","diamond"]}, "legend": null}
         }},
        {"data": {"name": "pts"}, "transform": [{"filter": "datum.gene == 'LAMC2'"}],
         "mark": {"type": "tick", "color": "black", "thickness": 2, "size": 26},
         "encoding": {
          "x": {"field": "grp", "type": "nominal", "sort": ["AC (<6)","NP (<4)","NP (4-7)","NP (>7)","NP (Inf)"], "title": null},
          "y": {"aggregate": "median", "field": "v", "type": "quantitative", "title": ["Gene expression normalized", "to GAPDH and 18s"]}
         }},
        {"data": {"name": "lab"}, "transform": [{"filter": "datum.gene == 'LAMC2'"}],
         "mark": {"type": "text", "fontSize": 11.5, "color": "#333", "dy": -4, "baseline": "middle"},
         "encoding": {"x": {"field": "grp", "type": "nominal", "sort": ["AC (<6)","NP (<4)","NP (4-7)","NP (>7)","NP (Inf)"], "title": null}, "y": {"datum": 1000000, "type": "quantitative"}, "text": {"field": "pct"}}}
       ]},
      {"width": 215, "height": 138,
       "title": {"text": "OVO-2", "fontWeight": "bold", "offset": 22},
       "layer": [
        {"data": {"name": "pts"}, "transform": [{"filter": "datum.gene == 'OVO-2'"}, {"window": [{"op": "row_number", "as": "i"}], "groupby": ["grp"], "sort": [{"field": "v"}]}, {"calculate": "[0, 0.25, -0.125, 0.125, -0.25][(datum.i - 1) % 5]", "as": "jit"}],
         "mark": {"type": "point", "filled": true, "opacity": 1, "size": 50},
         "encoding": {
          "x": {"field": "grp", "type": "nominal", "sort": ["AC (<6)","NP (<4)","NP (4-7)","NP (>7)","NP (Inf)"], "scale": {"domain": ["AC (<6)","NP (<4)","NP (4-7)","NP (>7)","NP (Inf)"], "paddingInner": 0, "paddingOuter": 0}, "title": null},
          "xOffset": {"field": "jit", "type": "quantitative", "scale": {"domain": [-0.5, 0.5]}},
          "y": {"field": "v", "type": "quantitative", "scale": {"type": "log", "domain": [1, 10000000], "nice": false}, "axis": {"values": [1,10,100,1000,10000,100000,1000000,10000000], "labelExpr": "'10' + ['⁰','¹','²','³','⁴','⁵','⁶','⁷','⁸'][round(log(datum.value)/LN10)]", "labelFontSize": 10, "minExtent": 36, "maxExtent": 36}, "title": ["Gene expression normalized", "to GAPDH and 18s"]},
          "color": {"field": "grp", "type": "nominal", "scale": {"domain": ["AC (<6)","NP (<4)","NP (4-7)","NP (>7)","NP (Inf)"], "range": ["#000000","#ee1c25","#1c1ce6","#1fb41f","#f57a1e"]}, "legend": null},
          "shape": {"field": "grp", "type": "nominal", "scale": {"domain": ["AC (<6)","NP (<4)","NP (4-7)","NP (>7)","NP (Inf)"], "range": ["circle","square","triangle-up","triangle-down","diamond"]}, "legend": null}
         }},
        {"data": {"name": "pts"}, "transform": [{"filter": "datum.gene == 'OVO-2'"}],
         "mark": {"type": "tick", "color": "black", "thickness": 2, "size": 26},
         "encoding": {
          "x": {"field": "grp", "type": "nominal", "sort": ["AC (<6)","NP (<4)","NP (4-7)","NP (>7)","NP (Inf)"], "title": null},
          "y": {"aggregate": "median", "field": "v", "type": "quantitative", "title": ["Gene expression normalized", "to GAPDH and 18s"]}
         }},
        {"data": {"name": "lab"}, "transform": [{"filter": "datum.gene == 'OVO-2'"}],
         "mark": {"type": "text", "fontSize": 10.5, "color": "#333", "dy": -6, "baseline": "middle"},
         "encoding": {"x": {"field": "grp", "type": "nominal", "sort": ["AC (<6)","NP (<4)","NP (4-7)","NP (>7)","NP (Inf)"], "title": null}, "y": {"datum": 10000000, "type": "quantitative"}, "text": {"field": "pct"}}}
       ]},
      {"width": 216, "height": 141,
       "title": {"text": "IBSP", "fontWeight": "normal", "offset": 9},
       "layer": [
        {"data": {"name": "pts"}, "transform": [{"filter": "datum.gene == 'IBSP'"}, {"window": [{"op": "row_number", "as": "i"}], "groupby": ["grp"], "sort": [{"field": "v"}]}, {"calculate": "[0, 0.25, -0.125, 0.125, -0.25][(datum.i - 1) % 5]", "as": "jit"}],
         "mark": {"type": "point", "filled": true, "opacity": 1, "size": 50},
         "encoding": {
          "x": {"field": "grp", "type": "nominal", "sort": ["AC (<6)","NP (<4)","NP (4-7)","NP (>7)","NP (Inf)"], "scale": {"domain": ["AC (<6)","NP (<4)","NP (4-7)","NP (>7)","NP (Inf)"], "paddingInner": 0, "paddingOuter": 0}, "title": null},
          "xOffset": {"field": "jit", "type": "quantitative", "scale": {"domain": [-0.5, 0.5]}},
          "y": {"field": "v", "type": "quantitative", "scale": {"type": "log", "domain": [10, 100000000], "nice": false}, "axis": {"values": [10,100,1000,10000,100000,1000000,10000000,100000000], "labelExpr": "'10' + ['⁰','¹','²','³','⁴','⁵','⁶','⁷','⁸'][round(log(datum.value)/LN10)]", "labelFontSize": 10, "minExtent": 24, "maxExtent": 24}, "title": ["Gene expression normalized", "to GAPDH and 18s"]},
          "color": {"field": "grp", "type": "nominal", "scale": {"domain": ["AC (<6)","NP (<4)","NP (4-7)","NP (>7)","NP (Inf)"], "range": ["#000000","#ee1c25","#1c1ce6","#1fb41f","#f57a1e"]}, "legend": null},
          "shape": {"field": "grp", "type": "nominal", "scale": {"domain": ["AC (<6)","NP (<4)","NP (4-7)","NP (>7)","NP (Inf)"], "range": ["circle","square","triangle-up","triangle-down","diamond"]}, "legend": null}
         }},
        {"data": {"name": "pts"}, "transform": [{"filter": "datum.gene == 'IBSP'"}],
         "mark": {"type": "tick", "color": "black", "thickness": 2, "size": 26},
         "encoding": {
          "x": {"field": "grp", "type": "nominal", "sort": ["AC (<6)","NP (<4)","NP (4-7)","NP (>7)","NP (Inf)"], "title": null},
          "y": {"aggregate": "median", "field": "v", "type": "quantitative", "title": ["Gene expression normalized", "to GAPDH and 18s"]}
         }},
        {"data": {"name": "lab"}, "transform": [{"filter": "datum.gene == 'IBSP'"}],
         "mark": {"type": "text", "fontSize": 10.5, "color": "#333", "dy": -6, "baseline": "middle"},
         "encoding": {"x": {"field": "grp", "type": "nominal", "sort": ["AC (<6)","NP (<4)","NP (4-7)","NP (>7)","NP (Inf)"], "title": null}, "y": {"datum": 100000000, "type": "quantitative"}, "text": {"field": "pct"}}},
        {"data": {"name": "lab"}, "transform": [{"filter": "datum.gene == 'IBSP'"}],
         "mark": {"type": "text", "fontSize": 10, "color": "#e8202a", "dy": -17, "baseline": "middle"},
         "encoding": {"x": {"field": "grp", "type": "nominal", "sort": ["AC (<6)","NP (<4)","NP (4-7)","NP (>7)","NP (Inf)"], "title": null}, "y": {"datum": 100000000, "type": "quantitative"}, "text": {"field": "plus"}}}
       ]}
  ]
}
